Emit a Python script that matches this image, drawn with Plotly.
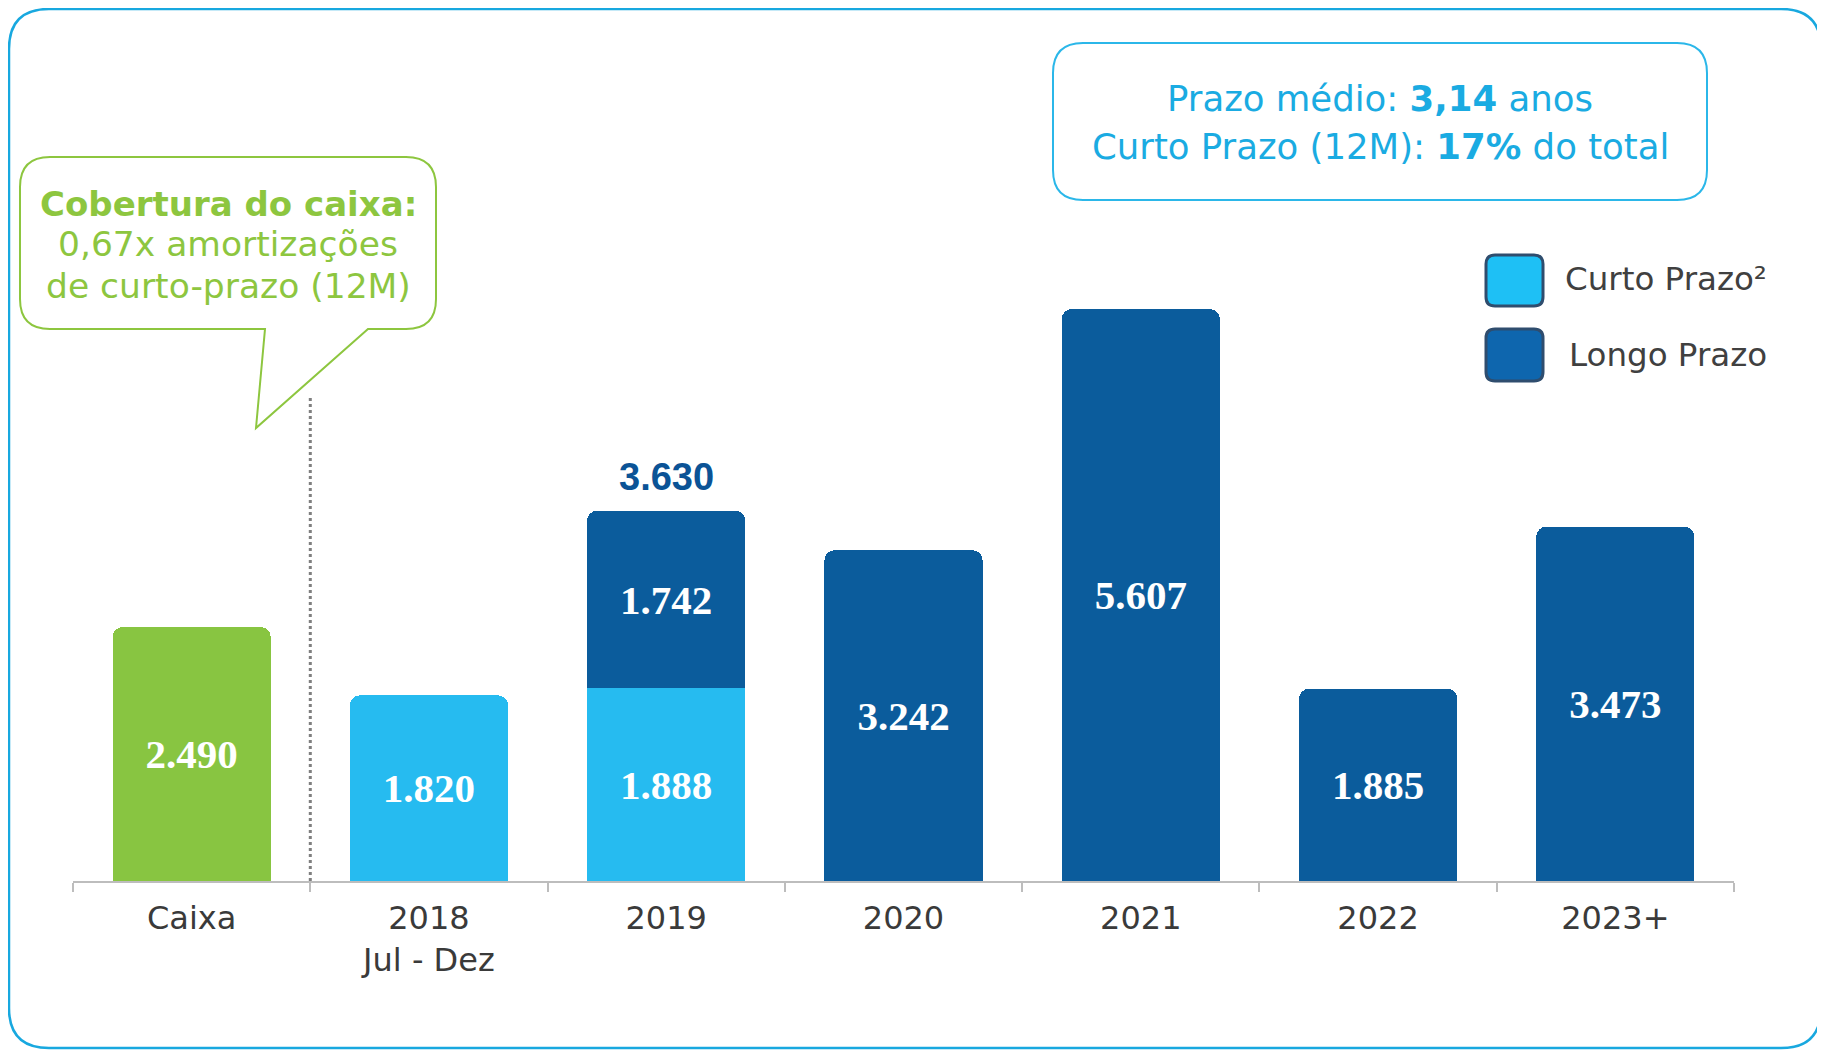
import plotly.graph_objects as go

categories = ["Caixa", "2018", "2019", "2020", "2021", "2022", "2023+"]
tick_labels = ["Caixa", "2018<br>Jul - Dez", "2019", "2020", "2021", "2022", "2023+"]
caixa = [2490, None, None, None, None, None, None]
curto_prazo = [None, 1820, 1888, None, None, None, None]
longo_prazo = [None, None, 1742, 3242, 5607, 1885, 3473]

# pixel layout helpers (page coordinates; the page body adds an 8px offset)
OFF = 8
FW, FH = 1825, 1052
L, R, T, B = 73, 1734, 50, 881
W, H = R - L, B - T
YMAX = 8147


def px(x):
    return (x - L) / W


def py(y):
    return (B - y) / H


def rrect(x0, y0, x1, y1, r):
    return (f"M {px(x0+r)},{py(y0)} L {px(x1-r)},{py(y0)} Q {px(x1)},{py(y0)} {px(x1)},{py(y0+r)} "
            f"L {px(x1)},{py(y1-r)} Q {px(x1)},{py(y1)} {px(x1-r)},{py(y1)} "
            f"L {px(x0+r)},{py(y1)} Q {px(x0)},{py(y1)} {px(x0)},{py(y1-r)} "
            f"L {px(x0)},{py(y0+r)} Q {px(x0)},{py(y0)} {px(x0+r)},{py(y0)} Z")


def bubble(x0, y0, x1, y1, r, ta, tb, tip):
    return (f"M {px(x0+r)},{py(y0)} L {px(x1-r)},{py(y0)} Q {px(x1)},{py(y0)} {px(x1)},{py(y0+r)} "
            f"L {px(x1)},{py(y1-r)} Q {px(x1)},{py(y1)} {px(x1-r)},{py(y1)} "
            f"L {px(tb)},{py(y1)} L {px(tip[0])},{py(tip[1])} L {px(ta)},{py(y1)} "
            f"L {px(x0+r)},{py(y1)} Q {px(x0)},{py(y1)} {px(x0)},{py(y1-r)} "
            f"L {px(x0)},{py(y0+r)} Q {px(x0)},{py(y0)} {px(x0+r)},{py(y0)} Z")


GREEN = "#88C541"
CYAN = "#26BBF0"
DARK = "#0B5C9C"
SERIF = "Liberation Serif"
SANS = "DejaVu Sans"

fig = go.Figure()
for name, vals, col in [("Caixa", caixa, GREEN), ("Curto Prazo", curto_prazo, CYAN),
                        ("Longo Prazo", longo_prazo, DARK)]:
    fig.add_trace(go.Bar(
        x=categories, y=vals, name=name, marker=dict(color=col, line=dict(width=0)),
        texttemplate="<b>%{y:,.0f}</b>", textposition="inside", insidetextanchor="middle",
        textfont=dict(family=SERIF, size=41, color="white"), showlegend=False,
        textangle=0,
    ))

total_2019 = curto_prazo[2] + longo_prazo[2]
idx_2019 = categories.index("2019")

shapes = [
    dict(type="path", xref="paper", yref="paper", path=rrect(9, 9, 1821, 1048, 40),
         line=dict(color="#18A8DF", width=2.5)),
    dict(type="path", xref="paper", yref="paper", path=rrect(1053, 43, 1707, 200, 30),
         line=dict(color="#2BB7E9", width=2)),
    dict(type="path", xref="paper", yref="paper",
         path=bubble(20, 157, 436, 329, 30, 265, 368, (256, 428)),
         line=dict(color="#8DC63F", width=2)),
    dict(type="line", xref="x", yref="paper", x0=0.5, x1=0.5, y0=0, y1=py(396),
         line=dict(color="#7F7F7F", width=3, dash="dot")),
    dict(type="path", xref="paper", yref="paper", path=rrect(1486, 255, 1543, 306, 9),
         fillcolor="#1EC0F5", line=dict(color="#2F4D6E", width=3)),
    dict(type="path", xref="paper", yref="paper", path=rrect(1486, 329, 1543, 381, 9),
         fillcolor="#0E66AE", line=dict(color="#2F4D6E", width=3)),
]


def ann(x, y, text, size, color, family=SANS, xanchor="center"):
    return dict(x=px(x), y=py(y), xref="paper", yref="paper", showarrow=False,
                xanchor=xanchor, yanchor="middle", text=text,
                font=dict(family=family, size=size, color=color))


annotations = [
    dict(x=idx_2019, y=total_2019, xref="x", yref="y",
         text="<b>" + f"{total_2019:,}".replace(",", ".") + "</b>",
         showarrow=False, xanchor="center", yanchor="middle", yshift=34,
         font=dict(family="Liberation Sans", size=38, color="#0B5396")),
    ann(1380, 98, "Prazo médio: <b>3,14</b> anos", 35.5, "#1AABE2"),
    ann(1380, 147, "Curto Prazo (12M): <b>17%</b> do total", 35.5, "#1AABE2"),
    ann(228, 204, "<b>Cobertura do caixa:</b>", 34, "#8DC63F"),
    ann(228, 244, "0,67x amortizações", 34.5, "#8DC63F"),
    ann(228, 286, "de curto-prazo (12M)", 34.5, "#8DC63F"),
    ann(1563, 279, "Curto Prazo²", 32.5, "#404040", xanchor="left"),
    ann(1567, 355, "Longo Prazo", 32.5, "#404040", xanchor="left"),
]

fig.update_layout(
    width=FW, height=FH,
    margin=dict(l=L - OFF, r=FW - (R - OFF), t=T - OFF, b=FH - (B - OFF), pad=0),
    barmode="stack", bargap=0.333, barcornerradius=10,
    separators=",.",
    plot_bgcolor="white", paper_bgcolor="white",
    shapes=shapes, annotations=annotations,
    xaxis=dict(type="category", tickvals=categories, ticktext=tick_labels,
               range=[-0.5, len(categories) - 0.5],
               showline=True, linecolor="#BDBDBD", linewidth=2,
               ticks="outside", tickson="boundaries", ticklen=9, tickcolor="#BDBDBD", tickwidth=2,
               tickfont=dict(family=SANS, size=32, color="#3A3A3A"), showgrid=False,
               ticklabelstandoff=8, tickangle=0),
    yaxis=dict(range=[0, YMAX], visible=False, showgrid=False),
)

fig.write_html("out.html")
